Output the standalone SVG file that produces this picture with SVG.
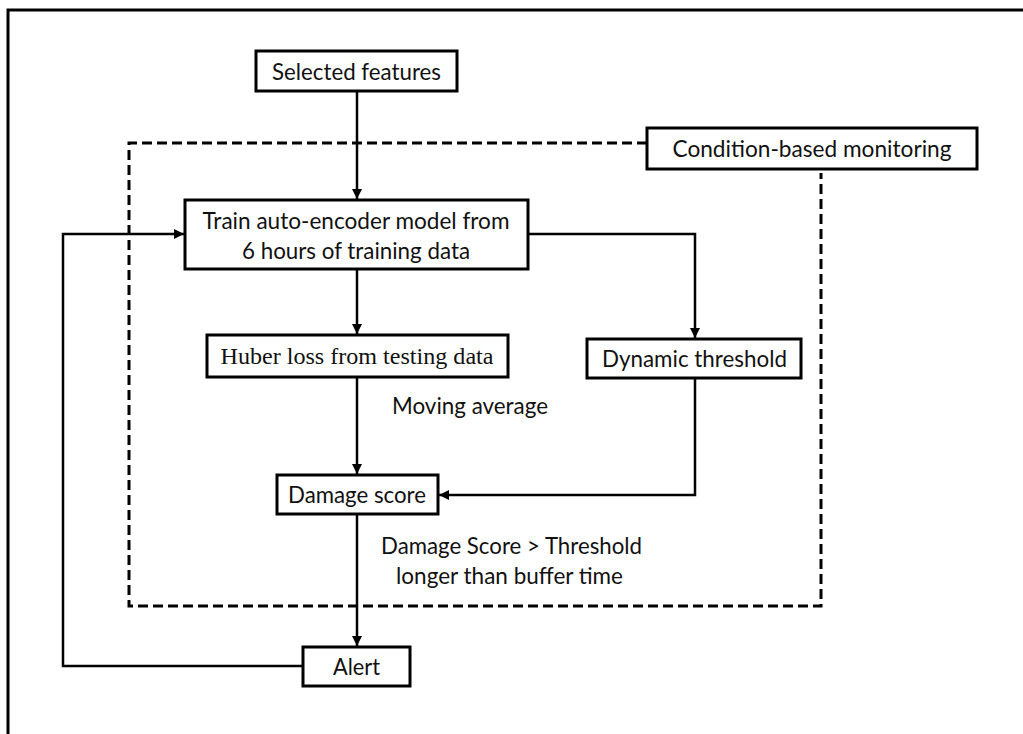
<svg xmlns="http://www.w3.org/2000/svg" width="1023" height="734" viewBox="0 0 1023 734">
<style>
.box{fill:#fff;stroke:#000;stroke-width:3}
.t{font-family:Lato,"Liberation Sans",sans-serif;font-size:23.5px;fill:#111;text-anchor:middle}
.s{font-family:"Liberation Serif","Times New Roman",serif;font-size:23px;fill:#111;text-anchor:middle}
.c{fill:none;stroke:#000;stroke-width:2.5}
.d{fill:none;stroke:#000;stroke-width:3;stroke-dasharray:10 5}
</style>
<defs>
<marker id="ah" viewBox="0 0 10 10" refX="10" refY="5" markerWidth="10" markerHeight="10" markerUnits="userSpaceOnUse" orient="auto">
<path d="M0,0 L10,5 L0,10 z" fill="#000"/>
</marker>
</defs>
<rect width="1023" height="734" fill="#fff"/>
<path d="M8,734 V10 H1023" fill="none" stroke="#000" stroke-width="3"/>
<g id="boundary">
<path class="d" d="M647,143 H129 V606 H821 V173"/>
</g>
<g id="connectors">
<path class="c" d="M357,91 V199" marker-end="url(#ah)"/>
<path class="c" d="M357,269 V334" marker-end="url(#ah)"/>
<path class="c" d="M528,234 H695 V338" marker-end="url(#ah)"/>
<path class="c" d="M357,377 V474" marker-end="url(#ah)"/>
<path class="c" d="M695,378 V495 H439" marker-end="url(#ah)"/>
<path class="c" d="M357,514 V646" marker-end="url(#ah)"/>
<path class="c" d="M303,666 H63 V234 H184" marker-end="url(#ah)"/>
</g>
<g id="selected-features">
<rect class="box" x="256" y="51" width="201" height="40"/>
<text class="t" x="356.5" y="79.5" textLength="169" lengthAdjust="spacingAndGlyphs">Selected features</text>
</g>
<g id="condition-based-monitoring">
<rect class="box" x="647" y="128" width="330" height="41"/>
<text class="t" x="812" y="156.5" textLength="279" lengthAdjust="spacingAndGlyphs">Condition-based monitoring</text>
</g>
<g id="train">
<rect class="box" x="185" y="200" width="343" height="69"/>
<text class="t" x="356" y="228.5" textLength="307" lengthAdjust="spacingAndGlyphs">Train auto-encoder model from</text>
<text class="t" x="356" y="258.5" textLength="228" lengthAdjust="spacingAndGlyphs">6 hours of training data</text>
</g>
<g id="huber">
<rect class="box" x="207" y="335" width="301" height="42"/>
<text class="s" x="357" y="363.5" textLength="273" lengthAdjust="spacingAndGlyphs">Huber loss from testing data</text>
</g>
<g id="dynamic-threshold">
<rect class="box" x="587" y="339" width="214" height="39"/>
<text class="t" x="694.5" y="366.5" textLength="185" lengthAdjust="spacingAndGlyphs">Dynamic threshold</text>
</g>
<g id="damage-score">
<rect class="box" x="277" y="475" width="161" height="39"/>
<text class="t" x="357" y="502.5" textLength="138" lengthAdjust="spacingAndGlyphs">Damage score</text>
</g>
<g id="alert">
<rect class="box" x="303" y="647" width="107" height="39"/>
<text class="t" x="356.5" y="674.5" textLength="47" lengthAdjust="spacingAndGlyphs">Alert</text>
</g>
<g id="labels">
<text class="t" x="470" y="413.5" textLength="156" lengthAdjust="spacingAndGlyphs">Moving average</text>
<text class="t" x="511.5" y="553.5" textLength="261" lengthAdjust="spacingAndGlyphs">Damage Score &gt; Threshold</text>
<text class="t" x="509.5" y="583.5" textLength="227" lengthAdjust="spacingAndGlyphs">longer than buffer time</text>
</g>
</svg>
